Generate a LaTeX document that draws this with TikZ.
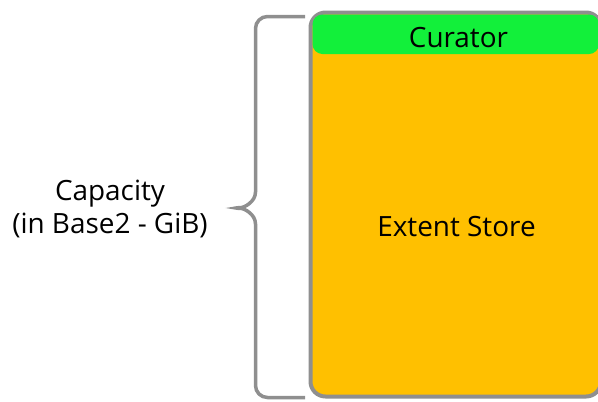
\documentclass[tikz,border=0pt]{standalone}
\usepackage{fontspec}
\setmainfont{Open Sans}
\usetikzlibrary{positioning}
\definecolor{storegold}{HTML}{FFC000}
\definecolor{curatorgreen}{HTML}{12F03A}
\definecolor{framegray}{HTML}{8F8F8F}

\begin{document}
\begin{tikzpicture}[x=1bp,y=-1bp]
\tikzstyle{every node}+=[inner sep=0pt, outer sep=0pt]
\tikzstyle{txt}=[font=\fontsize{28}{34}\selectfont, text=black]
\tikzstyle{brace}=[draw=framegray, line width=3.5bp, rounded corners=12bp]
\useasboundingbox (0,0) rectangle (598,401);
\node [fill=storegold, draw=framegray, line width=4bp, rounded corners=15bp,
  minimum width=290.5bp, minimum height=384bp] (extent) at (455.75,204.5) {};
\node [fill=curatorgreen, rounded corners=10bp, minimum width=286.5bp,
  minimum height=39.5bp] (curator) at (455.75,34.25) {};
\node [txt, anchor=base] (curatortxt) at (458.5,47) {Curator};
\node [txt, anchor=base] (storetxt) at (456.5,236) {Extent Store};
\node [txt, align=center] (capacity) at (110,209) {Capacity\\(in Base2 - GiB)};
\draw [brace] (305,16.5) -| (255.5,180)
  .. controls (255.5,202) and (244,207.5) .. (229,208)
  .. controls (244,208.5) and (255.5,214) .. (255.5,236)
  |- (305,397.5);
\end{tikzpicture}
\end{document}
